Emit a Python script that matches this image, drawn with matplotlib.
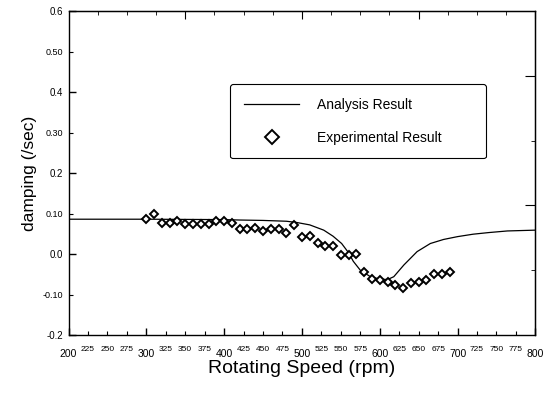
import matplotlib
matplotlib.use("Agg")
import matplotlib.pyplot as plt
import numpy as np

plt.rcParams['font.family'] = ['Liberation Sans', 'DejaVu Sans']

# Analysis result (curve)
analysis_rpm = [200, 300, 400, 420, 450, 480, 493, 510, 528, 540, 551, 560, 566,
                575, 588, 600, 610, 618, 631, 648, 665, 682, 700, 720, 740, 764, 800]
analysis_damp = [0.086, 0.086, 0.085, 0.084, 0.083, 0.081, 0.078, 0.072, 0.059, 0.044,
                 0.026, 0.003, -0.018, -0.040, -0.056, -0.062, -0.063, -0.056, -0.027,
                 0.006, 0.026, 0.036, 0.043, 0.049, 0.053, 0.057, 0.059]

# Experimental result
exp_rpm = [300, 310, 320, 330, 340, 350, 360, 370, 380, 390,
           400, 410, 420, 430, 440, 450, 460, 470, 480, 490,
           500, 510, 520, 530, 540, 550, 560, 570, 580, 590,
           600, 610, 620, 630, 640, 650, 660, 670, 680, 690]
exp_damp = [0.086, 0.100, 0.077, 0.077, 0.081, 0.073, 0.075, 0.074, 0.073, 0.082,
            0.081, 0.076, 0.063, 0.063, 0.064, 0.057, 0.061, 0.061, 0.051, 0.072,
            0.043, 0.045, 0.028, 0.021, 0.021, -0.002, -0.002, 0.001, -0.044, -0.061,
            -0.065, -0.068, -0.076, -0.085, -0.072, -0.070, -0.063, -0.049, -0.049, -0.045]

x_major = [200, 300, 400, 500, 600, 700, 800]
x_major_labels = ['200', '300', '400', '500', '600', '700', '800']
x_minor = [225, 250, 275, 325, 350, 375, 425, 450, 475, 525, 550, 575,
           625, 650, 675, 725, 750, 775]
x_minor_labels = ['225', '250', '275', '325', '350', '375', '425', '450', '475',
                  '525', '550', '575', '625', '650', '675', '725', '750', '775']
y_major = [-0.2, 0.0, 0.2, 0.4, 0.6]
y_major_labels = ['-0.2', '0.0', '0.2', '0.4', '0.6']
y_minor = [-0.1, 0.1, 0.3, 0.5]
y_minor_labels = ['-0.10', '0.10', '0.30', '0.50']

fig = plt.figure(figsize=(5.48, 3.96), dpi=100)
ax = fig.add_axes([0.125, 0.154, 0.852, 0.818])

ax.plot(analysis_rpm, analysis_damp, color='black', lw=0.9, label='Analysis Result')
ax.plot(exp_rpm, exp_damp, linestyle='none', marker='D', markersize=4.5,
        markerfacecolor='white', markeredgecolor='black', markeredgewidth=1.4,
        label='Experimental Result')

ax.set_xlim(200, 800)
ax.set_ylim(-0.2, 0.6)

ax.set_xticks(x_major, x_major_labels)
ax.set_xticks(x_minor, x_minor_labels, minor=True)
ax.set_yticks(y_major, y_major_labels)
ax.set_yticks(y_minor, y_minor_labels, minor=True)

ax.tick_params(axis='x', which='major', direction='in', length=5, width=1,
               labelsize=7.5, pad=10)
ax.tick_params(axis='x', which='minor', direction='in', length=3, width=0.8,
               labelsize=6, pad=8)
ax.tick_params(axis='y', which='major', direction='in', length=5, width=1,
               labelsize=7, pad=4)
ax.tick_params(axis='y', which='minor', direction='in', length=3, width=0.8,
               labelsize=6.5, pad=4)

for s in ax.spines.values():
    s.set_linewidth(1.0)

# top and right ticks of the original frame
top = ax.secondary_xaxis('top')
top_ticks = [237.5, 275, 312.5, 350, 387.5, 425, 462.5, 500, 537.5, 575, 612.5, 650,
             687.5, 725, 762.5]
top.set_xticks([350, 500, 650, 800])
top.set_xticks(top_ticks, minor=True)
top.tick_params(which='major', direction='in', length=6, labeltop=False)
top.tick_params(which='minor', direction='in', length=3)
top.set_xticklabels([])

right = ax.secondary_yaxis('right')
right.set_yticks([0.12, 0.44])
right.set_yticks([-0.04, 0.28], minor=True)
right.tick_params(which='major', direction='in', length=7)
right.tick_params(which='minor', direction='in', length=3)
right.set_yticklabels([])

ax.set_xlabel('Rotating Speed (rpm)', fontsize=14, labelpad=1)
ax.set_ylabel('damping (/sec)', fontsize=12.5, labelpad=4)

leg = ax.legend(loc='upper left', bbox_to_anchor=(0.3456, 0.775, 0.548, 0.0),
                mode='expand', borderaxespad=0, fontsize=10, frameon=True,
                fancybox=True, edgecolor='black', framealpha=1,
                handlelength=4.0, handletextpad=1.3, borderpad=1.0,
                labelspacing=1.35, markerscale=1.5, numpoints=1)
leg.get_frame().set_linewidth(0.8)

fig.savefig('out.png', dpi=100)
